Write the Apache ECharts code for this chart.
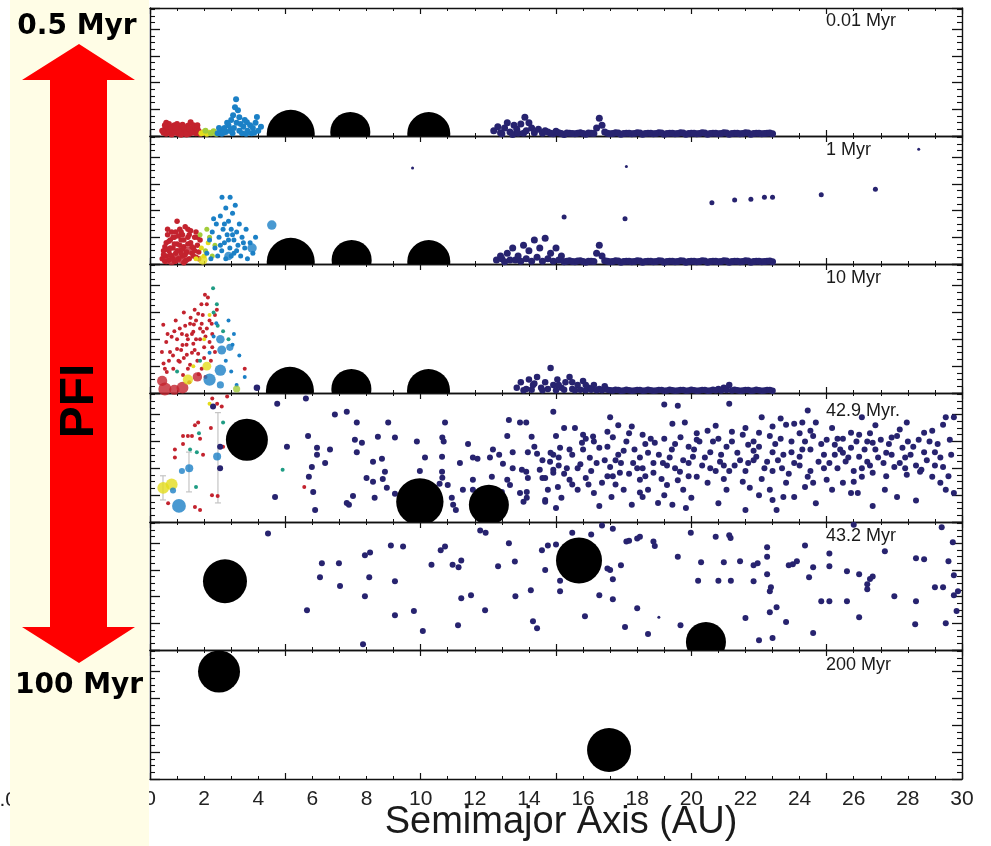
<!DOCTYPE html>
<html>
<head>
<meta charset="utf-8">
<script src="https://cdn.jsdelivr.net/npm/echarts@6/dist/echarts.min.js"></script>
<style>
  html, body { margin: 0; padding: 0; background: #ffffff; }
  #chart { width: 991px; height: 846px; }
</style>
</head>
<body>
<div id="chart"></div>
<script>
// ---------------------------------------------------------------
// Orbital architecture snapshots: semimajor axis (AU) vs eccentricity.
// Small bodies: [a, e]; embryos: [a, e, mass (Earth masses)];
// giant planets: [a, e, mass (Jupiter masses)].
// ---------------------------------------------------------------
const panelLabels = ['0.01 Myr', '1 Myr', '10 Myr', '42.9 Myr.', '43.2 Myr', '200 Myr'];
const xLabelStep = 2;           // AU between tick labels on the bottom axis
const xRange = [0, 30];
const eRange = [0, 0.48];

// ----- 0.01 Myr -----
const red001 = [[0.5,0.012],[0.55,0.025],[0.6,0.008],[0.6,0.05],[0.65,0.03],[0.7,0.015],[0.75,0.035],[0.8,0.006],[0.85,0.022],[0.9,0.04],[0.95,0.012],[1.0,0.028],[1.05,0.008],[1.1,0.035],[1.15,0.018],[1.2,0.042],[1.25,0.01],[1.3,0.03],[1.35,0.02],[1.4,0.038],[1.45,0.008],[1.5,0.052],[1.55,0.025],[1.6,0.015],[1.65,0.035],[1.7,0.01],[1.75,0.028],[1.8,0.018],[1.85,0.008],[0.7,0.045],[1.0,0.045],[1.25,0.032],[0.9,0.02],[1.6,0.04],[0.45,0.02],[1.15,0.005],[0.8,0.03],[0.55,0.04],[1.05,0.02],[1.35,0.006],[1.45,0.028],[1.75,0.04],[0.95,0.03],[1.55,0.012]];
const yel001 = [[1.9,0.01],[2.0,0.015],[2.1,0.008],[2.2,0.012]];
const grn001 = [[2.05,0.02],[2.25,0.01],[2.35,0.018],[2.45,0.008]];
const blu001 = [[2.5,0.01],[2.6,0.02],[2.65,0.008],[2.75,0.03],[2.8,0.015],[2.9,0.04],[2.95,0.02],[3.0,0.06],[3.05,0.01],[3.07,0.078],[3.1,0.03],[3.14,0.108],[3.18,0.138],[3.2,0.05],[3.25,0.097],[3.3,0.02],[3.35,0.045],[3.4,0.01],[3.45,0.035],[3.5,0.06],[3.58,0.052],[3.6,0.02],[3.7,0.04],[3.75,0.01],[3.8,0.03],[3.9,0.05],[3.95,0.071],[4.0,0.02],[4.1,0.035],[2.55,0.03],[2.85,0.05],[3.3,0.07],[2.7,0.012],[3.0,0.025],[3.55,0.008],[3.85,0.012]];
const nav001 = [[12.7,0.02],[12.85,0.035],[12.95,0.012],[13.0,0.008],[13.1,0.03],[13.2,0.05],[13.3,0.015],[13.4,0.006],[13.45,0.04],[13.55,0.025],[13.6,0.01],[13.7,0.045],[13.8,0.01],[13.85,0.07],[13.9,0.02],[14.0,0.05],[14.1,0.03],[14.2,0.012],[14.35,0.025],[14.5,0.01],[14.6,0.02],[14.7,0.015],[14.9,0.008],[15.0,0.018],[15.1,0.012],[15.3,0.006],[15.5,0.01],[15.7,0.008],[15.9,0.012],[16.1,0.007],[16.3,0.01],[16.5,0.03],[16.6,0.067],[16.7,0.04],[16.8,0.015],[17.0,0.008],[17.2,0.012],[17.4,0.007],[17.6,0.01],[17.8,0.008],[18.0,0.012],[18.2,0.007],[18.4,0.01],[18.6,0.008],[18.8,0.012],[19.0,0.007],[19.2,0.01],[19.4,0.008],[19.6,0.012],[19.8,0.007],[20.0,0.01],[20.2,0.008],[20.4,0.012],[20.6,0.007],[20.8,0.01],[21.0,0.008],[21.2,0.012],[21.4,0.007],[21.6,0.01],[21.8,0.008],[22.0,0.012],[22.2,0.007],[22.4,0.01],[22.6,0.008],[22.8,0.01],[23.0,0.008],
[14.8,0.01],[15.2,0.009],[15.4,0.011],[15.6,0.009],[15.8,0.01],[16.0,0.009],[16.2,0.011],[16.4,0.009],[16.9,0.01],[17.1,0.009],[17.3,0.011],[17.5,0.009],[17.7,0.01],[17.9,0.009],[18.1,0.011],[18.3,0.009],[18.5,0.01],[18.7,0.009],[18.9,0.011],[19.1,0.009],[19.3,0.01],[19.5,0.009],[19.7,0.011],[19.9,0.009],[20.1,0.01],[20.3,0.009],[20.5,0.011],[20.7,0.009],[20.9,0.01],[21.1,0.009],[21.3,0.011],[21.5,0.009],[21.7,0.01],[21.9,0.009],[22.1,0.011],[22.3,0.009],[22.5,0.01],[22.7,0.009],[22.9,0.011]];
const gas001 = [[5.2,0.008,1.0],[7.4,0.015,0.58],[10.3,0.009,0.72]];

// ----- 1 Myr -----
const red1 = [[0.45,0.02],[0.5,0.05],[0.55,0.01],[0.6,0.08],[0.6,0.03],[0.65,0.11],[0.7,0.05],[0.7,0.015],[0.75,0.09],[0.8,0.03],[0.8,0.12],[0.85,0.06],[0.9,0.01],[0.9,0.1],[0.95,0.04],[1.0,0.16],[1.0,0.075],[1.05,0.02],[1.1,0.13],[1.1,0.05],[1.15,0.09],[1.2,0.03],[1.2,0.11],[1.25,0.065],[1.3,0.01],[1.3,0.14],[1.35,0.045],[1.4,0.1],[1.45,0.02],[1.5,0.08],[1.5,0.125],[1.55,0.04],[1.6,0.06],[1.65,0.1],[1.7,0.025],[1.75,0.07],[1.8,0.045],[1.85,0.09],[0.55,0.065],[0.95,0.12],[1.35,0.015],[1.7,0.12],[0.75,0.035],[1.15,0.04],[0.65,0.13],[1.25,0.005],[0.85,0.02],
[0.5,0.035],[0.6,0.055],[0.7,0.085],[0.75,0.06],[0.85,0.1],[0.9,0.075],[1.0,0.05],[1.05,0.105],[1.1,0.07],[1.2,0.055],[1.25,0.09],[1.3,0.035],[1.4,0.075],[1.45,0.11],[1.55,0.065],[1.6,0.03],[1.65,0.05],[1.75,0.1],[1.8,0.02],[0.95,0.01],[1.15,0.12],[1.4,0.13]];
const redEmb1 = [[0.6,0.015,0.1],[1.0,0.02,0.12],[1.4,0.05,0.08],[0.8,0.01,0.08],[1.2,0.015,0.08]];
const yel1 = [[1.7,0.02],[1.9,0.06],[2.0,0.03],[2.15,0.08]];
const yelEmb1 = [[1.95,0.015,0.15]];
const grn1 = [[1.85,0.11],[2.05,0.05],[2.2,0.1],[2.3,0.03],[2.4,0.07],[2.1,0.13]];
const blu1 = [[2.1,0.04],[2.2,0.09],[2.25,0.02],[2.3,0.12],[2.4,0.06],[2.45,0.15],[2.5,0.03],[2.55,0.1],[2.6,0.18],[2.65,0.05],[2.66,0.25],[2.7,0.13],[2.75,0.08],[2.8,0.21],[2.8,0.02],[2.85,0.11],[2.9,0.16],[2.95,0.06],[2.96,0.25],[3.0,0.13],[3.05,0.19],[3.1,0.04],[3.1,0.09],[3.15,0.22],[3.2,0.12],[3.25,0.07],[3.3,0.15],[3.35,0.03],[3.4,0.1],[3.5,0.06],[3.55,0.13],[3.6,0.02],[3.7,0.08],[3.8,0.04],[3.9,0.1],[2.35,0.17],[3.0,0.03],[2.6,0.07],[2.9,0.09],[3.2,0.05],[3.45,0.08],[2.75,0.15],[3.05,0.11]];
const bluEmb1 = [[3.77,0.06,0.15],[4.5,0.146,0.15],[2.9,0.03,0.1]];
const nav1 = [[12.8,0.015],[12.95,0.03],[13.0,0.02],[13.1,0.008],[13.2,0.04],[13.3,0.015],[13.4,0.06],[13.5,0.015],[13.6,0.03],[13.7,0.01],[13.8,0.07],[13.9,0.02],[14.0,0.05],[14.1,0.01],[14.2,0.09],[14.3,0.025],[14.4,0.06],[14.5,0.01],[14.6,0.097],[14.7,0.02],[14.8,0.04],[14.9,0.01],[15.0,0.06],[15.1,0.015],[15.2,0.03],[15.3,0.008],[15.5,0.012],[15.7,0.008],[15.9,0.012],[16.1,0.007],[16.3,0.01],[16.5,0.04],[16.6,0.07],[16.7,0.03],[16.8,0.012],[17.0,0.008],[17.2,0.012],[17.4,0.007],[17.6,0.01],[17.8,0.008],[18.0,0.012],[18.2,0.007],[18.4,0.01],[18.6,0.008],[18.8,0.012],[19.0,0.007],[19.2,0.01],[19.4,0.008],[19.6,0.012],[19.8,0.007],[20.0,0.01],[20.2,0.008],[20.4,0.012],[20.6,0.007],[20.8,0.01],[21.0,0.008],[21.2,0.012],[21.4,0.007],[21.6,0.01],[21.8,0.008],[22.0,0.012],[22.2,0.007],[22.4,0.01],[22.6,0.008],[22.8,0.01],[23.0,0.008],
[15.4,0.01],[15.6,0.009],[15.8,0.011],[16.0,0.009],[16.2,0.01],[16.4,0.009],[16.9,0.01],[17.1,0.009],[17.3,0.011],[17.5,0.009],[17.7,0.01],[17.9,0.009],[18.1,0.011],[18.3,0.009],[18.5,0.01],[18.7,0.009],[18.9,0.011],[19.1,0.009],[19.3,0.01],[19.5,0.009],[19.7,0.011],[19.9,0.009],[20.1,0.01],[20.3,0.009],[20.5,0.011],[20.7,0.009],[20.9,0.01],[21.1,0.009],[21.3,0.011],[21.5,0.009],[21.7,0.01],[21.9,0.009],[22.1,0.011],[22.3,0.009],[22.5,0.01],[22.7,0.009],[22.9,0.011]];
const navScat1 = [[15.3,0.176],[17.55,0.17],[20.76,0.23],[21.6,0.24],[22.2,0.243],[22.7,0.25],[23.0,0.25],[24.8,0.26],[26.8,0.28]];
const navFaint1 = [[9.7,0.36],[17.6,0.366],[28.4,0.43]];
const gas1 = [[5.2,0.008,1.0],[7.45,0.015,0.58],[10.3,0.009,0.72]];

// ----- 10 Myr -----
const red10 = [[2.03,0.366],[2.14,0.355],[2.1,0.33],[1.78,0.295],[1.48,0.258],[1.62,0.255],[1.91,0.258],[2.28,0.258],[0.49,0.254],[0.8,0.209],[1.18,0.22],[1.36,0.215],[1.6,0.228],[1.96,0.228],[2.1,0.24],[1.0,0.164],[1.2,0.179],[1.6,0.183],[0.74,0.153],[0.44,0.153],[1.36,0.142],[1.78,0.146],[1.1,0.116],[1.48,0.105],[1.91,0.09],[0.86,0.09],[2.2,0.19],[2.4,0.153],[0.62,0.078],[1.22,0.067],[2.47,0.31],[2.4,0.29],[3.5,0.09],[1.25,0.3],[0.95,0.27],[1.65,0.31],[1.4,0.2],[0.6,0.19],[1.05,0.12],[1.55,0.15],[1.85,0.2],[2.3,0.22],[0.5,0.11],[1.3,0.25],[2.0,0.17],[1.7,0.27],[0.9,0.23],[1.15,0.16],[2.25,0.12],[1.75,0.12],[0.7,0.12],[1.45,0.04],[2.05,0.06],[1.9,0.33],
[1.1,0.24],[1.5,0.28],[1.85,0.24],[2.2,0.27],[0.65,0.22],[1.0,0.2],[1.35,0.18],[1.7,0.2],[2.05,0.21],[0.85,0.14],[1.25,0.13],[1.65,0.16],[2.0,0.13],[0.55,0.09],[1.4,0.09],[1.8,0.07],[2.3,0.17],[1.95,0.29],[1.55,0.22]];
const redEmb10 = [[0.55,0.015,0.5],[1.2,0.02,0.35],[1.75,0.06,0.15],[0.45,0.045,0.2],[0.9,0.012,0.2]];
const yel10 = [[2.2,0.29],[1.6,0.1],[2.0,0.2]];
const yelEmb10 = [[1.4,0.05,0.2],[2.1,0.1,0.12]];
const grn10 = [[2.33,0.39],[2.35,0.3],[1.0,0.08],[2.5,0.25],[2.7,0.23],[1.85,0.12],[2.9,0.2],[2.47,0.33]];
const grnEmb10 = [[3.2,0.015,0.05]];
const blu10 = [[2.45,0.26],[2.8,0.12],[3.0,0.08],[3.1,0.22],[3.3,0.14],[3.5,0.06],[2.2,0.15],[2.35,0.21],[3.2,0.03],[2.9,0.27],[3.05,0.18]];
const bluEmb10 = [[2.2,0.05,0.4],[2.6,0.085,0.3],[2.6,0.2,0.1],[2.65,0.16,0.12],[2.95,0.17,0.05],[2.6,0.03,0.05]];
const nav10 = [[3.95,0.02],[13.55,0.02],[13.7,0.04],[13.9,0.015],[14.0,0.05],[14.15,0.03],[14.3,0.06],[14.45,0.02],[14.6,0.04],[14.8,0.093],[14.9,0.03],[15.05,0.05],[15.2,0.02],[15.35,0.04],[15.5,0.06],[15.6,0.015],[15.8,0.03],[16.0,0.045],[16.2,0.02],[16.4,0.03],[16.6,0.015],[16.8,0.025],[17.0,0.01],[17.2,0.012],[17.4,0.008],[17.6,0.012],[17.8,0.008],[18.0,0.011],[18.2,0.008],[18.4,0.012],[18.6,0.008],[18.8,0.011],[19.0,0.008],[19.2,0.012],[19.4,0.008],[19.6,0.011],[19.8,0.008],[20.0,0.012],[20.2,0.008],[20.4,0.011],[20.6,0.008],[20.8,0.012],[21.0,0.015],[21.2,0.02],[21.4,0.03],[21.6,0.012],[21.8,0.008],[22.0,0.011],[22.2,0.008],[22.4,0.012],[22.6,0.008],[22.8,0.011],[23.0,0.008],
[13.8,0.01],[14.1,0.012],[14.5,0.01],[14.7,0.015],[15.0,0.01],[15.3,0.012],[15.7,0.01],[15.9,0.012],[16.1,0.01],[16.3,0.012],[16.5,0.01],[16.7,0.01],[16.9,0.012],[17.1,0.009],[17.3,0.011],[17.5,0.009],[17.7,0.01],[17.9,0.009],[18.1,0.011],[18.3,0.009],[18.5,0.01],[18.7,0.009],[18.9,0.011],[19.1,0.009],[19.3,0.01],[19.5,0.009],[19.7,0.011],[19.9,0.009],[20.1,0.01],[20.3,0.009],[20.5,0.011],[20.7,0.009],[20.9,0.01],[21.1,0.009],[21.3,0.011],[21.5,0.009],[21.7,0.01],[21.9,0.009],[22.1,0.011],[22.3,0.009],[22.5,0.01],[22.7,0.009],[22.9,0.011],[14.2,0.035],[15.1,0.03],[15.6,0.04],[16.1,0.03]];
const gas10 = [[5.17,0.008,1.0],[7.44,0.015,0.58],[10.29,0.009,0.72]];

// ----- 42.9 Myr -----
const red429 = [[2.3,0.46],[2.48,0.44],[2.65,0.43],[2.85,0.467],[1.78,0.37],[1.66,0.36],[1.22,0.32],[1.4,0.32],[1.55,0.32],[1.85,0.31],[1.22,0.29],[0.92,0.27],[0.92,0.24],[2.25,0.35],[1.96,0.25],[2.7,0.28],[3.88,0.27],[5.7,0.13],[2.29,0.1],[2.5,0.097],[0.67,0.07],[1.66,0.056],[1.85,0.045]];
const teal429 = [[1.81,0.33],[1.73,0.26],[1.48,0.27],[2.7,0.37],[1.7,0.13],[4.9,0.194]];
const yel429 = [[2.2,0.44]];
const yelEmb429 = [[0.49,0.127,0.35],[0.8,0.14,0.35]];
const bluEmb429 = [[2.48,0.244,0.08],[1.45,0.2,0.08],[1.18,0.19,0.025],[0.85,0.117,0.025],[1.07,0.06,0.6]];
const range429 = [[0.48,0.082,0.172],[1.44,0.112,0.26],[2.51,0.071,0.407]];
const nav429 = [[4.7,0.44],[5.76,0.46],[6.83,0.4],[7.27,0.41],[7.64,0.37],[8.8,0.37],[10.9,0.37],[13.26,0.38],[13.67,0.37],[13.9,0.37],[14.9,0.41],
[5.84,0.32],[5.06,0.28],[6.17,0.276],[6.65,0.27],[6.17,0.25],[7.57,0.306],[7.83,0.295],[8.42,0.317],[9.05,0.314],[9.86,0.3],[10.8,0.314],[10.85,0.3],[11.75,0.29],[13.2,0.32],[14.1,0.317],[13.96,0.26],[14.3,0.254],[12.67,0.27],[12.9,0.25],[13.4,0.26],[14.9,0.25],
[6.47,0.22],[5.98,0.205],[7.64,0.26],[8.24,0.224],[8.57,0.235],[9.97,0.19],[10.16,0.24],[10.79,0.243],[11.45,0.22],[11.93,0.24],[12.1,0.235],[12.56,0.24],[13.04,0.217],[13.4,0.2],[13.74,0.194],[13.9,0.187],[14.4,0.194],[14.78,0.224],[15.1,0.21],
[5.87,0.168],[8.0,0.164],[8.24,0.15],[8.6,0.16],[8.68,0.187],[8.75,0.127],[10.79,0.187],[10.8,0.165],[10.7,0.142],[11.0,0.138],[11.56,0.12],[11.93,0.157],[12.63,0.168],[13.2,0.157],[13.3,0.138],[13.67,0.108],[13.92,0.112],[13.92,0.09],[13.8,0.075],[13.96,0.164],[14.6,0.082],[14.6,0.164],[14.9,0.183],
[6.03,0.112],[7.5,0.097],[7.27,0.071],[7.35,0.064],[8.3,0.09],[9.05,0.105],[4.62,0.093],[6.1,0.045],[11.15,0.09],[11.2,0.064],[11.3,0.045],[11.93,0.12],[12.93,0.075],[13.0,0.112],[14.6,0.075],[15.0,0.052],
[2.33,0.43],[2.59,0.28],[2.59,0.2],
[17.0,0.39],[19.0,0.437],[19.5,0.433],[21.4,0.44],[22.6,0.39],[23.3,0.385],[24.3,0.415],[26.3,0.39],[29.4,0.39],[27.96,0.37],
[15.3,0.35],[16.0,0.325],[16.37,0.318],[16.9,0.336],[17.8,0.355],[18.2,0.325],[19.3,0.366],[19.76,0.37],[20.2,0.306],[20.9,0.358],[21.5,0.336],[21.9,0.325],[22.5,0.332],[23.0,0.355],[23.5,0.362],[23.8,0.366],[24.1,0.37],[24.6,0.37],[25.2,0.35],[25.9,0.332],[26.2,0.325],[27.0,0.306],[27.4,0.314],[27.7,0.344],[28.6,0.332],[29.3,0.362],[29.7,0.39],
[14.5,0.23],[14.8,0.258],[15.15,0.276],[15.6,0.25],[15.96,0.295],[16.25,0.239],[16.6,0.276],[17.0,0.205],[17.3,0.25],[17.6,0.3],[17.85,0.22],[18.4,0.258],[18.65,0.295],[18.95,0.22],[19.28,0.27],[19.58,0.187],[20.06,0.243],[20.3,0.3],[20.7,0.26],[21.06,0.224],[21.3,0.28],[21.7,0.258],[22.1,0.287],[22.4,0.243],[22.8,0.224],[23.0,0.26],[23.35,0.2],[23.7,0.3],[24.0,0.243],[24.4,0.27],[24.7,0.224],[25.0,0.306],[25.3,0.287],[25.6,0.258],[25.9,0.276],[26.2,0.243],[26.5,0.224],[26.7,0.295],[27.2,0.258],[27.5,0.205],[27.8,0.276],[28.4,0.306],[28.5,0.194],[29.0,0.26],[29.55,0.306],[29.3,0.205],
[14.5,0.164],[14.9,0.194],[15.07,0.13],[15.5,0.157],[15.8,0.12],[16.1,0.164],[16.4,0.108],[16.7,0.146],[17.05,0.093],[17.36,0.183],[17.5,0.12],[17.8,0.064],[18.1,0.157],[18.2,0.093],[18.6,0.183],[18.77,0.071],[19.1,0.138],[19.3,0.064],[19.7,0.12],[19.8,0.052],[20.2,0.168],[20.6,0.146],[21.3,0.12],[22.0,0.045],[22.16,0.127],[22.9,0.12],[23.0,0.082],[23.4,0.093],[23.5,0.146],[23.15,0.045],[23.8,0.093],[24.3,0.168],[24.5,0.146],[25.0,0.157],[25.2,0.12],[25.6,0.146],[25.9,0.108],[26.15,0.108],[26.3,0.168],[26.7,0.183],[27.15,0.12],[27.6,0.093],[27.96,0.176],[28.45,0.187],[28.9,0.168],[29.2,0.146],[29.4,0.12],[29.7,0.108],
[15.4,0.2],[15.9,0.215],[16.3,0.19],[16.8,0.23],[17.2,0.14],[17.5,0.265],[18.0,0.2],[18.3,0.17],[18.8,0.25],[19.1,0.21],[19.5,0.155],[19.9,0.28],[20.4,0.21],[20.9,0.19],[21.2,0.16],[21.6,0.21],[22.0,0.19],[22.3,0.265],[22.6,0.16],[23.2,0.23],[23.6,0.18],[24.0,0.21],[24.2,0.3],[24.9,0.25],[25.4,0.2],[25.7,0.225],[26.0,0.19],[26.4,0.27],[26.9,0.24],[27.3,0.29],[27.7,0.22],[28.1,0.25],[28.7,0.23],[29.1,0.29],[16.0,0.27],[17.1,0.315],[18.5,0.31],[19.6,0.315],[21.0,0.31],[22.3,0.3],[23.3,0.31],[24.5,0.32],[25.6,0.31],[26.6,0.33],[28.0,0.3],[15.2,0.09],[16.6,0.06],[18.4,0.12],[19.0,0.1],[20.0,0.09],[21.0,0.07],[22.5,0.1],[24.6,0.07],[26.7,0.06],[28.3,0.08],[15.7,0.35],[17.3,0.36],[20.6,0.34],[22.0,0.35],[24.4,0.34],[26.8,0.36],[28.9,0.34],
[14.2,0.28],[14.7,0.12],[15.0,0.32],[15.3,0.18],[15.5,0.27],[15.8,0.2],[16.1,0.31],[16.2,0.14],[16.5,0.22],[16.9,0.28],[17.1,0.17],[17.4,0.22],[17.7,0.18],[17.9,0.27],[18.1,0.24],[18.3,0.29],[18.6,0.22],[18.9,0.16],[19.2,0.24],[19.4,0.29],[19.7,0.23],[19.9,0.17],[20.1,0.27],[20.5,0.24],[20.8,0.3],[21.1,0.25],[21.4,0.19],[21.8,0.23],[22.1,0.22],[22.5,0.28],[22.7,0.2],[23.1,0.29],[23.4,0.25],[23.8,0.22],[24.1,0.27],[24.4,0.19],[24.8,0.29],[25.1,0.22],[25.5,0.27],[25.8,0.24],[26.1,0.3],[26.3,0.2],[26.8,0.27],[27.1,0.22],[27.4,0.25],[27.9,0.24],[28.2,0.28],[28.6,0.26],[29.0,0.21],[29.6,0.25],[15.6,0.14],[16.9,0.17],[18.1,0.11],[19.4,0.2],[20.7,0.2],[21.9,0.15],[23.0,0.19],[24.2,0.13],[25.3,0.25],[26.0,0.15],[27.2,0.17],[28.3,0.21],[29.5,0.17],[15.1,0.24],[16.4,0.3],[17.7,0.33],[19.0,0.31],[20.2,0.33],[21.5,0.3],[22.9,0.32],[24.0,0.33],[25.4,0.31],[26.5,0.3],[27.6,0.32],[28.8,0.3],[17.2,0.23],[18.2,0.2],[19.9,0.22],[21.2,0.21],[22.3,0.23],[23.7,0.26],[24.9,0.2],[26.6,0.21],[27.9,0.2],[29.2,0.24]];
const gas429 = [[3.58,0.306,0.67],[9.97,0.075,0.96],[12.52,0.064,0.58]];

// ----- 43.2 Myr -----
const nav432 = [[4.36,0.437],[6.35,0.325],[6.98,0.325],[6.28,0.273],[7.02,0.24],[5.8,0.149],[7.94,0.355],[8.13,0.366],[8.1,0.273],[7.94,0.202],[7.87,0.022],[8.9,0.392],[9.35,0.388],[9.05,0.258],[9.05,0.13],[9.75,0.146],[10.08,0.071],[10.4,0.32],[10.74,0.374],[10.9,0.388],[11.18,0.32],[11.4,0.31],[11.5,0.336],[11.5,0.194],[11.86,0.205],[11.38,0.093],[12.2,0.448],[12.4,0.44],[12.38,0.149],[12.86,0.314],[13.26,0.4],[13.48,0.332],[13.5,0.202],[14.07,0.224],[14.15,0.108],[14.3,0.082],[14.48,0.374],[14.7,0.392],[14.6,0.3],[15.0,0.396],[15.15,0.26],[15.15,0.22],
[15.6,0.44],[16.3,0.433],[16.7,0.467],[17.1,0.455],[16.9,0.306],[17.0,0.3],[17.4,0.318],[17.1,0.265],[16.6,0.205],[17.1,0.19],[16.07,0.127],[17.6,0.407],[17.7,0.41],[18.0,0.418],[18.1,0.425],[18.6,0.407],[18.65,0.39],[18.0,0.157],[17.55,0.086],[18.4,0.06],[19.5,0.35],[19.98,0.44],[19.6,0.093],[20.36,0.329],[20.25,0.26],[20.9,0.425],[21.4,0.43],[21.45,0.42],[21.2,0.329],[21.0,0.26],[21.46,0.26],[21.8,0.333],[22.0,0.12],[22.3,0.318],[22.45,0.325],[22.3,0.258],[22.8,0.385],[22.8,0.35],[22.8,0.284],[22.94,0.235],[22.9,0.22],[22.9,0.142],[23.15,0.16],[23.0,0.045],[22.5,0.037],[23.5,0.105],[23.6,0.318],[23.75,0.322],[23.9,0.333],[24.2,0.392],[24.5,0.31],[24.35,0.273],[24.5,0.064],[24.8,0.183],[25.1,0.183],[25.1,0.362],[25.1,0.314],[25.75,0.295],[25.75,0.183],[26.2,0.284],[26.2,0.123],[26.5,0.247],[26.6,0.266],[26.7,0.276],[26.5,0.228],[26.0,0.47],[27.15,0.37],[27.5,0.202],[28.3,0.344],[28.6,0.34],[28.3,0.183],[28.27,0.097],[29.0,0.235],[29.3,0.235],[29.25,0.46],[29.5,0.333],[29.4,0.1],[29.66,0.404],[29.7,0.28],[29.7,0.205],[29.8,0.146],[29.85,0.22]];
const navFaint432 = [[18.8,0.123]];
const gas432 = [[2.77,0.258,0.77],[15.85,0.336,0.88],[20.54,0.03,0.58]];

// ----- 200 Myr -----
const gas200 = [[2.55,0.4,0.67],[16.96,0.108,0.77]];

// ---------------------------------------------------------------
const COLORS = {
  red: '#c3232e', yellow: '#e4dc1c', green: '#a2cc3a', teal: '#1f9c84',
  blue: '#1b80c6', navy: '#27236f', planet: '#000000', range: '#c4c4c4', ink: '#1a1a1a'
};
const embryoSize = m => 2 + 14 * Math.cbrt(m);
const planetRadius = m => 24 * Math.cbrt(m);

// panel layout in pixels
const plotLeft = 150, plotRight = 962;
const panelTops = [8, 136, 264, 393, 522, 650];
const panelHeights = [128, 128, 129, 129, 128, 129];

const panels = [
  { small: [[red001,'red',6],[yel001,'yellow',6],[grn001,'green',6],[blu001,'blue',6],[nav001,'navy',7]], emb: [], gas: gas001 },
  { small: [[red1,'red',5.5],[yel1,'yellow',5],[grn1,'green',5],[blu1,'blue',5],[nav1,'navy',7],[navScat1,'navy',5],[navFaint1,'navy',3]],
    emb: [[redEmb1,'red'],[yelEmb1,'yellow'],[bluEmb1,'blue']], gas: gas1 },
  { small: [[red10,'red',4],[yel10,'yellow',4],[grn10,'teal',4],[blu10,'blue',4],[nav10,'navy',6.5]],
    emb: [[redEmb10,'red'],[yelEmb10,'yellow'],[grnEmb10,'green'],[bluEmb10,'blue']], gas: gas10 },
  { small: [[red429,'red',4],[teal429,'teal',4],[yel429,'yellow',4],[nav429,'navy',6]],
    emb: [[yelEmb429,'yellow'],[bluEmb429,'blue']], gas: gas429, ranges: range429 },
  { small: [[nav432,'navy',6],[navFaint432,'navy',3]], emb: [], gas: gas432 },
  { small: [], emb: [], gas: gas200 }
];

const grid = [], xAxis = [], yAxis = [], series = [];
const axisColor = '#111';

panels.forEach((p, i) => {
  grid.push({ left: plotLeft, width: plotRight - plotLeft, top: panelTops[i], height: panelHeights[i] });
  ['bottom', 'top'].forEach(pos => xAxis.push({
    gridIndex: i, type: 'value', position: pos, min: xRange[0], max: xRange[1], interval: 5,
    axisLine: { show: true, onZero: false, lineStyle: { color: axisColor, width: 1.4 } },
    axisTick: { show: true, inside: true, length: 6, lineStyle: { color: axisColor, width: 1.2 } },
    minorTick: { show: true, splitNumber: 5, length: 3, lineStyle: { color: axisColor, width: 1 } },
    axisLabel: { show: false }, splitLine: { show: false }, minorSplitLine: { show: false }
  }));
  ['left', 'right'].forEach(pos => yAxis.push({
    gridIndex: i, type: 'value', position: pos, min: eRange[0], max: eRange[1], interval: 0.1,
    axisLine: { show: true, onZero: false, lineStyle: { color: axisColor, width: 1.4 } },
    axisTick: { show: true, inside: true, length: 10, lineStyle: { color: axisColor, width: 1.3 } },
    minorTick: { show: true, splitNumber: 4, length: 5, lineStyle: { color: axisColor, width: 1.1 } },
    axisLabel: { show: false }, splitLine: { show: false }, minorSplitLine: { show: false }
  }));

  const xi = 2 * i, yi = 2 * i;

  // giant planets, clipped to the panel
  series.push({
    type: 'custom', xAxisIndex: xi, yAxisIndex: yi, clip: true, silent: true, z: 3,
    data: p.gas,
    renderItem: (params, api) => {
      const c = api.coord([api.value(0), api.value(1)]);
      return { type: 'circle', shape: { cx: c[0], cy: c[1], r: planetRadius(api.value(2)) },
               style: { fill: COLORS.planet } };
    }
  });

  // orbital excursion ranges
  if (p.ranges) {
    series.push({
      type: 'custom', xAxisIndex: xi, yAxisIndex: yi, silent: true, z: 1, data: p.ranges,
      renderItem: (params, api) => {
        const lo = api.coord([api.value(0), api.value(1)]);
        const hi = api.coord([api.value(0), api.value(2)]);
        const st = { stroke: COLORS.range, lineWidth: 1.2 };
        return { type: 'group', children: [
          { type: 'line', shape: { x1: lo[0], y1: lo[1], x2: hi[0], y2: hi[1] }, style: st },
          { type: 'line', shape: { x1: lo[0] - 3, y1: lo[1], x2: lo[0] + 3, y2: lo[1] }, style: st },
          { type: 'line', shape: { x1: hi[0] - 3, y1: hi[1], x2: hi[0] + 3, y2: hi[1] }, style: st }
        ] };
      }
    });
  }

  p.small.forEach(([data, col, size]) => series.push({
    type: 'scatter', xAxisIndex: xi, yAxisIndex: yi, data, symbolSize: size, silent: true, z: 2,
    itemStyle: { color: COLORS[col], opacity: 1 }
  }));
  p.emb.forEach(([data, col]) => series.push({
    type: 'scatter', xAxisIndex: xi, yAxisIndex: yi, data, silent: true, z: 2,
    symbolSize: v => embryoSize(v[2]), itemStyle: { color: COLORS[col] }
  }));
});

// tick labels of the bottom panel
xAxis.push({
  gridIndex: 5, type: 'value', position: 'bottom', min: xRange[0], max: xRange[1], interval: xLabelStep,
  axisLine: { show: false, onZero: false }, axisTick: { show: false },
  axisLabel: { show: true, margin: 10, fontSize: 21, color: '#222', fontFamily: 'Liberation Sans, Arial, sans-serif' },
  splitLine: { show: false }
});

const labelY = [21, 150, 278, 411, 536, 665];
const graphic = [];
panelLabels.forEach((t, i) => graphic.push({
  type: 'text', x: 826, y: labelY[i], z: 60, silent: true,
  style: { text: t, fontSize: 18, fontFamily: 'Liberation Sans, Arial, sans-serif', fill: COLORS.ink, align: 'left', verticalAlign: 'middle' }
}));
graphic.push({
  type: 'text', x: 561, y: 823, z: 60, silent: true,
  style: { text: 'Semimajor Axis (AU)', fontSize: 38, fontFamily: 'Liberation Sans, Arial, sans-serif', fill: COLORS.ink, align: 'center', verticalAlign: 'middle' }
});
// partly hidden side label
graphic.push({
  type: 'text', x: 17, y: 800, z: 50, silent: true,
  style: { text: '0.0', fontSize: 21, fontFamily: 'Liberation Sans, Arial, sans-serif', fill: '#222', align: 'right', verticalAlign: 'middle' }
});
// time band with the instability arrow
graphic.push({ type: 'rect', z: 100, silent: true, shape: { x: 10, y: 0, width: 139, height: 846 }, style: { fill: '#fffde6' } });
graphic.push({
  type: 'polygon', z: 101, silent: true,
  shape: { points: [[79,44],[135,80],[107,80],[107,627],[135,627],[79,663],[22,627],[50,627],[50,80],[22,80]] },
  style: { fill: '#ff0000' }
});
graphic.push({
  type: 'text', x: 80, y: 401, rotation: Math.PI / 2, z: 102, silent: true,
  style: { text: 'PFI', fontSize: 48, fontWeight: 'bold', fontFamily: 'Liberation Sans, Arial, sans-serif', fill: '#000', align: 'center', verticalAlign: 'middle' }
});
graphic.push({
  type: 'text', x: 77, y: 27, z: 102, silent: true,
  style: { text: '0.5 Myr', fontSize: 28, fontWeight: 'bold', fontFamily: 'DejaVu Sans, sans-serif', fill: '#000', align: 'center', verticalAlign: 'middle' }
});
graphic.push({
  type: 'text', x: 79, y: 686, z: 102, silent: true,
  style: { text: '100 Myr', fontSize: 28, fontWeight: 'bold', fontFamily: 'DejaVu Sans, sans-serif', fill: '#000', align: 'center', verticalAlign: 'middle' }
});

const chart = echarts.init(document.getElementById('chart'), null, { renderer: 'canvas' });
chart.setOption({
  animation: false,
  backgroundColor: '#ffffff',
  grid, xAxis, yAxis, series, graphic
});
</script>
</body>
</html>
